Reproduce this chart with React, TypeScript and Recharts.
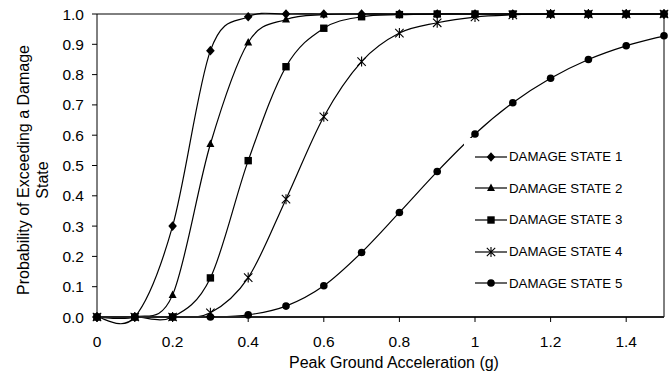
import { LineChart, Line, XAxis, YAxis, ReferenceLine, Legend } from "recharts";

const PGA = [0, 0.1, 0.2, 0.3, 0.4, 0.5, 0.6, 0.7, 0.8, 0.9, 1.0, 1.1, 1.2, 1.3, 1.4, 1.5];

const DS1 = [0, 0, 0.3, 0.879, 0.991, 1, 1, 1, 1, 1, 1, 1, 1, 1, 1, 1];
const DS2 = [0, 0, 0.073, 0.571, 0.906, 0.982, 0.998, 1, 1, 1, 1, 1, 1, 1, 1, 1];
const DS3 = [0, 0, 0, 0.129, 0.516, 0.826, 0.953, 0.991, 0.998, 1, 1, 1, 1, 1, 1, 1];
const DS4 = [0, 0, 0, 0.014, 0.13, 0.389, 0.661, 0.843, 0.937, 0.971, 0.99, 0.997, 1, 1, 1, 1];
const DS5 = [0, 0, 0, 0, 0.007, 0.036, 0.103, 0.213, 0.345, 0.48, 0.604, 0.707, 0.788, 0.85, 0.895, 0.928];

const SERIES_NAMES = ["DAMAGE STATE 1", "DAMAGE STATE 2", "DAMAGE STATE 3", "DAMAGE STATE 4", "DAMAGE STATE 5"];
const SERIES_KEYS = ["ds1", "ds2", "ds3", "ds4", "ds5"];
const SERIES_SHAPES = ["diamond", "triangle", "square", "star", "circle"];

const X_TICKS = [0, 0.2, 0.4, 0.6, 0.8, 1, 1.2, 1.4];
const Y_TICKS = [0, 0.1, 0.2, 0.3, 0.4, 0.5, 0.6, 0.7, 0.8, 0.9, 1.0];

const data = PGA.map((pga, i) => ({
  pga,
  ds1: DS1[i],
  ds2: DS2[i],
  ds3: DS3[i],
  ds4: DS4[i],
  ds5: DS5[i],
}));

const FONT = "'Liberation Sans', Arial, sans-serif";

// Excel-style smoothed line (Catmull-Rom through the points)
const excelSmooth = (context: any) => {
  let pts: [number, number][] = [];
  return {
    areaStart() {},
    areaEnd() {},
    lineStart() {
      pts = [];
    },
    point(x: number, y: number) {
      pts.push([+x, +y]);
    },
    lineEnd() {
      const n = pts.length;
      if (!n) return;
      context.moveTo(pts[0][0], pts[0][1]);
      for (let i = 0; i < n - 1; i++) {
        const p0 = pts[Math.max(i - 1, 0)];
        const p1 = pts[i];
        const p2 = pts[i + 1];
        const p3 = pts[Math.min(i + 2, n - 1)];
        context.bezierCurveTo(
          p1[0] + (p2[0] - p0[0]) / 6,
          p1[1] + (p2[1] - p0[1]) / 6,
          p2[0] - (p3[0] - p1[0]) / 6,
          p2[1] - (p3[1] - p1[1]) / 6,
          p2[0],
          p2[1]
        );
      }
    },
  };
};

function Marker({ shape, cx, cy }: { shape: string; cx: number; cy: number }) {
  switch (shape) {
    case "diamond":
      return <path d={`M${cx},${cy - 4.8}L${cx + 4.3},${cy}L${cx},${cy + 4.8}L${cx - 4.3},${cy}Z`} fill="#000" />;
    case "triangle":
      return <path d={`M${cx},${cy - 4.5}L${cx + 4},${cy + 3}L${cx - 4},${cy + 3}Z`} fill="#000" />;
    case "square":
      return <rect x={cx - 3.7} y={cy - 3.7} width={7.4} height={7.4} fill="#000" />;
    case "star":
      return (
        <path
          d={`M${cx - 4.2},${cy - 4.2}L${cx + 4.2},${cy + 4.2}M${cx + 4.2},${cy - 4.2}L${cx - 4.2},${cy + 4.2}M${cx},${cy - 5}L${cx},${cy + 5}`}
          stroke="#000"
          strokeWidth={1.1}
          fill="none"
        />
      );
    default:
      return <circle cx={cx} cy={cy} r={3.8} fill="#000" />;
  }
}

const renderLegend = () => (
  <div style={{ paddingTop: 3, fontFamily: FONT, fontSize: 13.3, color: "#000" }}>
    {SERIES_NAMES.map((name, i) => (
      <div key={name} style={{ height: 31.6, display: "flex", alignItems: "center", paddingLeft: 11 }}>
        <svg width={32} height={12} style={{ display: "block" }}>
          <line x1={0} y1={6} x2={32} y2={6} stroke="#000" strokeWidth={1.2} />
          <Marker shape={SERIES_SHAPES[i]} cx={16} cy={6} />
        </svg>
        <span style={{ marginLeft: 2, whiteSpace: "nowrap" }}>{name}</span>
      </div>
    ))}
  </div>
);

const YTitle = () => (
  <g fontFamily={FONT} fontSize={16} fill="#000">
    <text x={29} y={170} transform="rotate(-90 29 170)" textAnchor="middle">
      Probability of Exceeding a Damage
    </text>
    <text x={48} y={180} transform="rotate(-90 48 180)" textAnchor="middle">
      State
    </text>
  </g>
);

const XTitle = () => (
  <text x={394} y={368} textAnchor="middle" fontFamily={FONT} fontSize={16} fill="#000">
    Peak Ground Acceleration (g)
  </text>
);

export default function App() {
  return (
    <div style={{ position: "absolute", left: 0, top: 0, background: "#fff" }}>
      <LineChart
        width={671}
        height={374}
        data={data}
        margin={{ top: 14, right: 7, bottom: 0, left: 0 }}
        style={{ fontFamily: FONT }}
      >
        <XAxis
          dataKey="pga"
          type="number"
          domain={[0, 1.5]}
          ticks={X_TICKS}
          height={57}
          tickSize={5}
          tickMargin={14}
          tickFormatter={(v) => String(v)}
          tick={{ fill: "#000", fontSize: 15.5 }}
          axisLine={{ stroke: "#222", strokeWidth: 2 }}
          tickLine={{ stroke: "#000" }}
          label={{ content: XTitle }}
        />
        <YAxis
          type="number"
          domain={[0, 1]}
          ticks={Y_TICKS}
          width={97}
          tickSize={5}
          tickMargin={8}
          tickFormatter={(v) => v.toFixed(1)}
          tick={{ fill: "#000", fontSize: 15.5 }}
          axisLine={{ stroke: "#000" }}
          tickLine={{ stroke: "#000" }}
          label={{ content: YTitle }}
        />
        <ReferenceLine y={1} stroke="#000" strokeWidth={1} />
        <ReferenceLine x={1.5} stroke="#000" strokeWidth={1} />
        {SERIES_KEYS.map((key, i) => (
          <Line
            key={key}
            dataKey={key}
            name={SERIES_NAMES[i]}
            type={excelSmooth as any}
            stroke="#000"
            strokeWidth={1.2}
            isAnimationActive={false}
            activeDot={false}
            dot={(p: any) => <Marker key={`${key}-${p.index}`} shape={SERIES_SHAPES[i]} cx={p.cx} cy={p.cy} />}
          />
        ))}
        <Legend
          layout="vertical"
          align="center"
          verticalAlign="middle"
          content={renderLegend}
          wrapperStyle={{ left: 464, top: 138, width: 165, height: 162, background: "#fff" }}
        />
      </LineChart>
    </div>
  );
}
